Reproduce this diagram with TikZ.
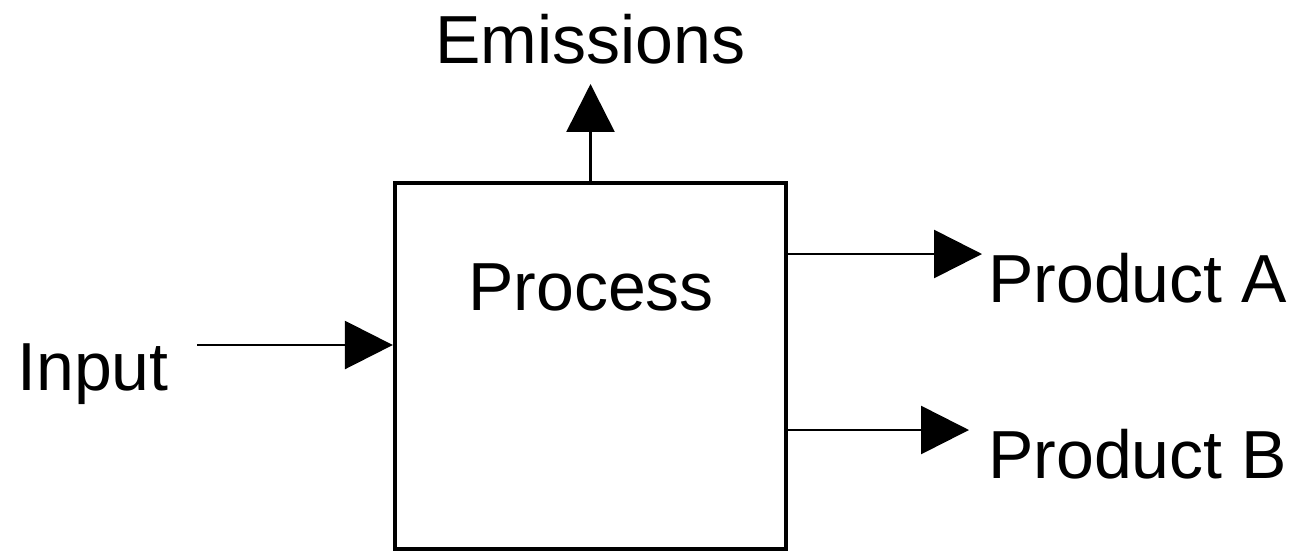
\documentclass[tikz,border=0pt]{standalone}
\usepackage{fontspec}
\setmainfont{Liberation Sans}
\usetikzlibrary{arrows.meta}

\tikzset{
    box/.style={draw, line width=2.5pt, minimum width=7.82cm, minimum height=7.32cm, inner sep=0pt},
    lbl/.style={anchor=base west, inner sep=0pt, font=\fontsize{38.7}{46}\selectfont},
    flow/.style={line width=1.5pt, -{Triangle[length=0.96cm,width=0.96cm]}}
}

\begin{document}
\begin{tikzpicture}[x=0.02cm,y=-0.02cm]
        \useasboundingbox (0,0) rectangle (1290,555);
        \node[box] (proc) at (590.5,366) {};
        \node[lbl] (ptext) at (468,310) {Process};
        \node[lbl] (emis) at (435,63) {Emissions};
        \node[lbl] (inp) at (17,390) {Input};
        \node[lbl] (prodA) at (988,302) {Product A};
        \node[lbl] (prodB) at (988,478) {Product B};
        \coordinate (emtip) at (590.5,84);
        \coordinate (instart) at (197,345);
        \coordinate (atip) at (982,254);
        \coordinate (btip) at (969,430);
        \draw[flow] (proc.north) -- (emtip);
        \draw[flow] (instart) -- (instart -| proc.west);
        \draw[flow] (atip -| proc.east) -- (atip);
        \draw[flow] (btip -| proc.east) -- (btip);
    \end{tikzpicture}
\end{document}
